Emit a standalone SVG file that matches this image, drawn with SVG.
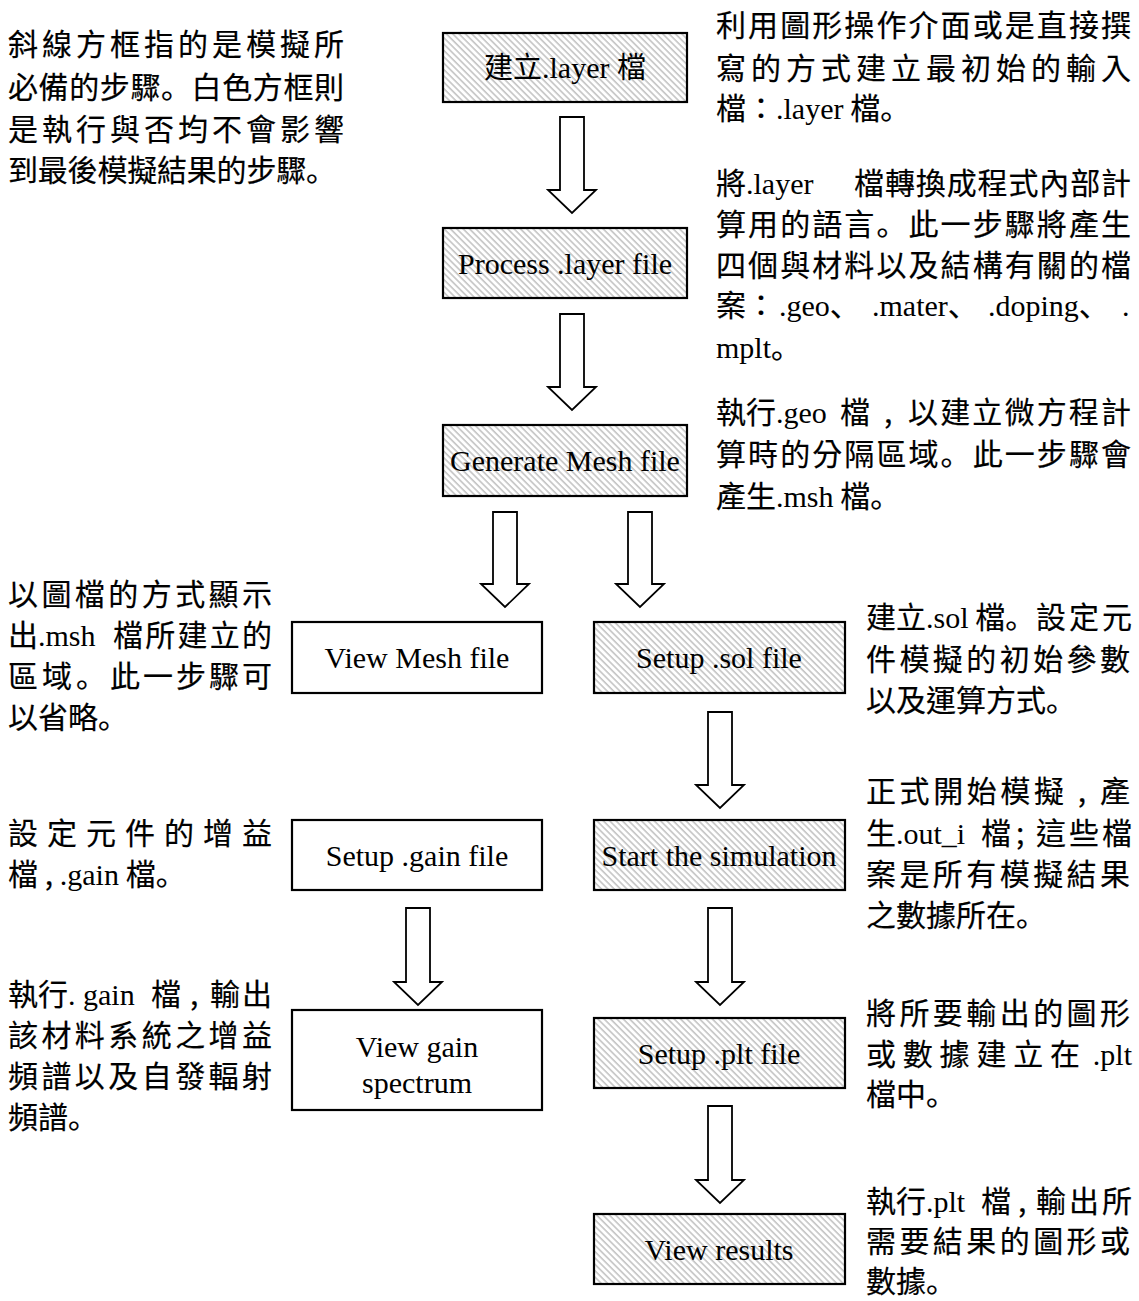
<svg xmlns="http://www.w3.org/2000/svg" width="1139" height="1301" viewBox="0 0 1139 1301">
<style>
.box{stroke:#000;stroke-width:2.2}
.h{fill:url(#hatch)}
.w{fill:#fff}
.lbl{font-family:"Liberation Serif","Times New Roman",serif;font-size:30px;fill:#000;text-anchor:middle}
.lbl .c{font-family:"Noto Sans CJK TC","Noto Sans CJK SC",sans-serif;font-size:29px}
.t{font-family:"Noto Sans CJK TC","Noto Sans CJK SC",sans-serif;font-size:30px;fill:#000;stroke:#000;stroke-width:0.2}
.l{font-family:"Liberation Serif","Times New Roman",serif;font-size:30px;stroke:none}
.p{font-family:"Noto Sans CJK JP","Noto Sans CJK TC",sans-serif}
.e{text-anchor:end}
.arr{fill:#fff;stroke:#000;stroke-width:1.8;stroke-linejoin:miter}
</style>
<defs>
<pattern id="hatch" width="4.5" height="4.5" patternUnits="userSpaceOnUse" patternTransform="rotate(45)">
<rect width="4.5" height="4.5" fill="#fff"/>
<rect width="4.5" height="1.6" fill="#c4c4c4"/>
</pattern>
</defs>
<rect width="1139" height="1301" fill="#fff"/>

<g id="connectors">
<path class="arr" d="M560,117 H584 V190 H596 L572,213 L548,190 H560 Z"/>
<path class="arr" d="M560,314 H584 V387 H596 L572,410 L548,387 H560 Z"/>
<path class="arr" d="M493,512 H517 V584 H529 L505,607 L481,584 H493 Z"/>
<path class="arr" d="M628,512 H652 V584 H664 L640,607 L616,584 H628 Z"/>
<path class="arr" d="M708,712 H732 V785 H744 L720,808 L696,785 H708 Z"/>
<path class="arr" d="M406,908 H430 V982 H442 L418,1005 L394,982 H406 Z"/>
<path class="arr" d="M708,908 H732 V982 H744 L720,1005 L696,982 H708 Z"/>
<path class="arr" d="M708,1106 H732 V1180 H744 L720,1203 L696,1180 H708 Z"/>
</g>

<g id="n1"><rect class="box h" x="443" y="33" width="244" height="69"/><text class="lbl" x="565" y="78"><tspan class="c">建立</tspan>.layer <tspan class="c">檔</tspan></text></g>
<g id="n2"><rect class="box h" x="443" y="228" width="244" height="70"/><text class="lbl" x="565" y="274">Process .layer file</text></g>
<g id="n3"><rect class="box h" x="443" y="425" width="244" height="71"/><text class="lbl" x="565" y="471">Generate Mesh file</text></g>
<g id="n4"><rect class="box w" x="292" y="622" width="250" height="71"/><text class="lbl" x="417" y="668">View Mesh file</text></g>
<g id="n5"><rect class="box h" x="594" y="622" width="251" height="71"/><text class="lbl" x="719" y="668">Setup .sol file</text></g>
<g id="n6"><rect class="box w" x="292" y="820" width="250" height="70"/><text class="lbl" x="417" y="866">Setup .gain file</text></g>
<g id="n7"><rect class="box h" x="594" y="820" width="251" height="70"/><text class="lbl" x="719" y="866">Start the simulation</text></g>
<g id="n8"><rect class="box w" x="292" y="1010" width="250" height="100"/><text class="lbl" x="417" y="1057">View gain</text><text class="lbl" x="417" y="1093">spectrum</text></g>
<g id="n9"><rect class="box h" x="594" y="1018" width="251" height="70"/><text class="lbl" x="719" y="1064">Setup .plt file</text></g>
<g id="n10"><rect class="box h" x="594" y="1214" width="251" height="70"/><text class="lbl" x="719" y="1260">View results</text></g>

<g id="notes">
<text class="t" x="8" y="55" textLength="336" lengthAdjust="spacing">斜線方框指的是模擬所</text>
<text class="t" x="8" y="98" textLength="336" lengthAdjust="spacing">必備的步驟<tspan class="p">。</tspan>白色方框則</text>
<text class="t" x="8" y="140" textLength="336" lengthAdjust="spacing">是執行與否均不會影響</text>
<text class="t" x="8" y="181" textLength="328" lengthAdjust="spacing">到最後模擬結果的步驟<tspan class="p">。</tspan></text>

<text class="t" x="716" y="36" textLength="415" lengthAdjust="spacing">利用圖形操作介面或是直接撰</text>
<text class="t" x="716" y="79" textLength="415" lengthAdjust="spacing">寫的方式建立最初始的輸入</text>
<text class="t" x="716" y="119">檔：<tspan class="l">.layer</tspan> 檔<tspan class="p">。</tspan></text>

<text class="t" x="716" y="194">將<tspan class="l">.layer</tspan></text>
<text class="t" x="854" y="194" textLength="277" lengthAdjust="spacing">檔轉換成程式內部計</text>
<text class="t" x="716" y="235" textLength="415" lengthAdjust="spacing">算用的語言<tspan class="p">。</tspan>此一步驟將產生</text>
<text class="t" x="716" y="276" textLength="415" lengthAdjust="spacing">四個與材料以及結構有關的檔</text>
<text class="t" x="716" y="316">案：<tspan class="l" x="779">.geo</tspan><tspan class="p">、</tspan><tspan class="l" x="872">.mater</tspan><tspan class="p">、</tspan><tspan class="l" x="988">.doping</tspan><tspan class="p">、</tspan><tspan class="l" x="1122">.</tspan></text>
<text class="t" x="716" y="358"><tspan class="l">mplt</tspan><tspan class="p">。</tspan></text>

<text class="t" x="716" y="423">執行<tspan class="l">.geo</tspan><tspan x="840">檔</tspan><tspan x="884">,</tspan></text>
<text class="t" x="908" y="423" textLength="223" lengthAdjust="spacing">以建立微方程計</text>
<text class="t" x="716" y="465" textLength="415" lengthAdjust="spacing">算時的分隔區域<tspan class="p">。</tspan>此一步驟會</text>
<text class="t" x="716" y="507">產生<tspan class="l">.msh</tspan> 檔<tspan class="p">。</tspan></text>

<text class="t" x="8" y="605" textLength="264" lengthAdjust="spacing">以圖檔的方式顯示</text>
<text class="t" x="8" y="646">出<tspan class="l">.msh</tspan></text>
<text class="t" x="113" y="646" textLength="159" lengthAdjust="spacing">檔所建立的</text>
<text class="t" x="8" y="687" letter-spacing="4">區域<tspan class="p">。</tspan></text>
<text class="t" x="110" y="687" textLength="162" lengthAdjust="spacing">此一步驟可</text>
<text class="t" x="8" y="728">以省略<tspan class="p">。</tspan></text>

<text class="t" x="8" y="844" textLength="264" lengthAdjust="spacing">設定元件的增益</text>
<text class="t" x="8" y="885">檔 , <tspan class="l">.gain</tspan> 檔<tspan class="p">。</tspan></text>

<text class="t" x="8" y="1005">執行<tspan class="l">. gain</tspan><tspan x="151">檔</tspan><tspan x="190">,</tspan></text>
<text class="t" x="210" y="1005" textLength="62" lengthAdjust="spacing">輸出</text>
<text class="t" x="8" y="1046" textLength="264" lengthAdjust="spacing">該材料系統之增益</text>
<text class="t" x="8" y="1087" textLength="264" lengthAdjust="spacing">頻譜以及自發輻射</text>
<text class="t" x="8" y="1128">頻譜<tspan class="p">。</tspan></text>

<text class="t" x="866" y="628">建立<tspan class="l">.sol</tspan> 檔<tspan class="p">。</tspan></text>
<text class="t" x="1036" y="628" textLength="96" lengthAdjust="spacing">設定元</text>
<text class="t" x="866" y="670" textLength="264" lengthAdjust="spacing">件模擬的初始參數</text>
<text class="t" x="866" y="711">以及運算方式<tspan class="p">。</tspan></text>

<text class="t" x="866" y="802" textLength="264" lengthAdjust="spacing">正式開始模擬 , 產</text>
<text class="t" x="866" y="844">生<tspan class="l">.out_i</tspan><tspan x="981">檔</tspan><tspan x="1016">;</tspan></text>
<text class="t" x="1036" y="844" textLength="96" lengthAdjust="spacing">這些檔</text>
<text class="t" x="866" y="885" textLength="264" lengthAdjust="spacing">案是所有模擬結果</text>
<text class="t" x="866" y="926">之數據所在<tspan class="p">。</tspan></text>

<text class="t" x="866" y="1024" textLength="264" lengthAdjust="spacing">將所要輸出的圖形</text>
<text class="t" x="866" y="1065" textLength="214" lengthAdjust="spacing">或數據建立在</text>
<text class="t e" x="1132" y="1065"><tspan class="l">.plt</tspan></text>
<text class="t" x="866" y="1105">檔中<tspan class="p">。</tspan></text>

<text class="t" x="866" y="1212">執行<tspan class="l">.plt</tspan><tspan x="981">檔</tspan><tspan x="1018">,</tspan></text>
<text class="t" x="1036" y="1212" textLength="96" lengthAdjust="spacing">輸出所</text>
<text class="t" x="866" y="1252" textLength="264" lengthAdjust="spacing">需要結果的圖形或</text>
<text class="t" x="866" y="1292">數據<tspan class="p">。</tspan></text>
</g>
</svg>
